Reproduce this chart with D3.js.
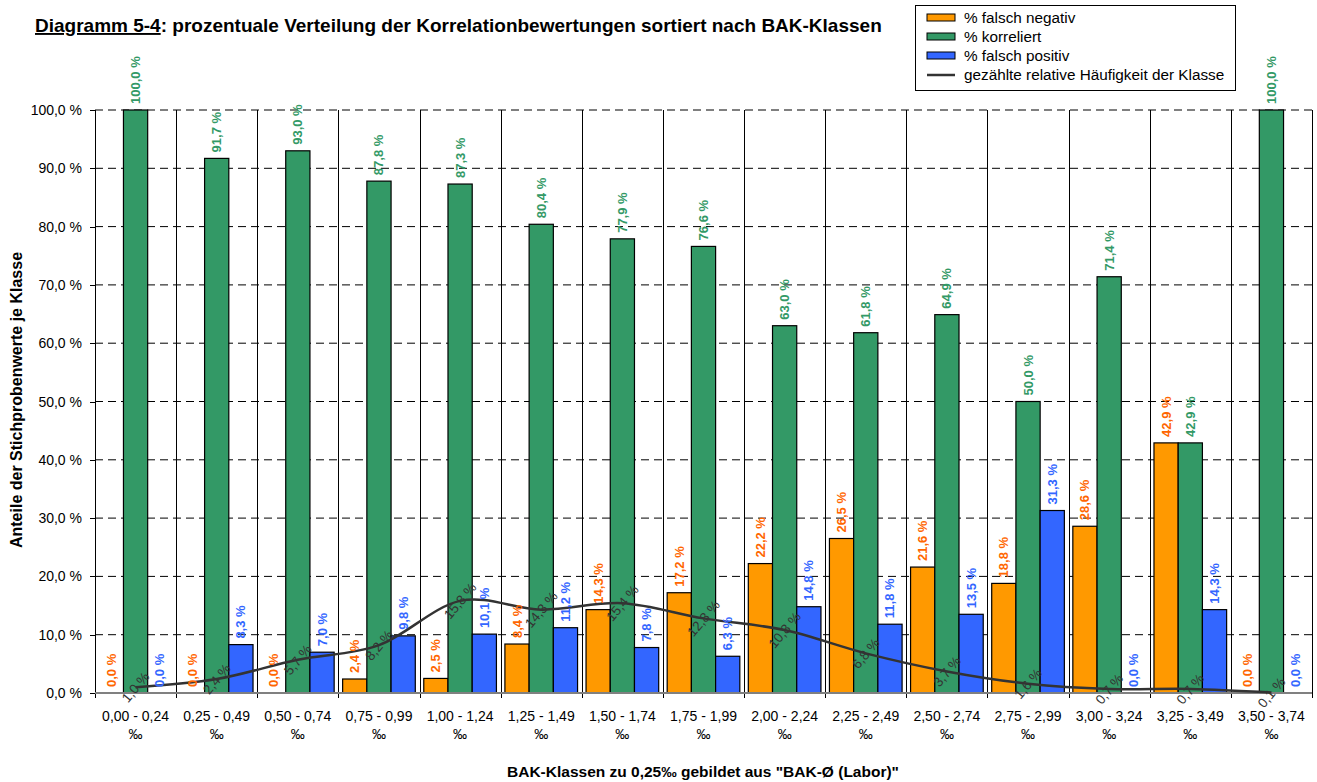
<!DOCTYPE html>
<html>
<head>
<meta charset="utf-8">
<script src="https://cdn.jsdelivr.net/npm/d3@7/dist/d3.min.js"></script>
<style>
  html, body { margin: 0; padding: 0; background: #fff; }
  svg { display: block; font-family: Arial, "Liberation Sans", sans-serif; }
</style>
</head>
<body>
<svg id="chart" width="1317" height="782"></svg>
<script>
const categories = ["0,00 - 0,24", "0,25 - 0,49", "0,50 - 0,74", "0,75 - 0,99", "1,00 - 1,24",
  "1,25 - 1,49", "1,50 - 1,74", "1,75 - 1,99", "2,00 - 2,24", "2,25 - 2,49",
  "2,50 - 2,74", "2,75 - 2,99", "3,00 - 3,24", "3,25 - 3,49", "3,50 - 3,74"];
const falschNegativ = [0.0, 0.0, 0.0, 2.4, 2.5, 8.4, 14.3, 17.2, 22.2, 26.5, 21.6, 18.8, 28.6, 42.9, 0.0];
const korreliert    = [100.0, 91.7, 93.0, 87.8, 87.3, 80.4, 77.9, 76.6, 63.0, 61.8, 64.9, 50.0, 71.4, 42.9, 100.0];
const falschPositiv = [0.0, 8.3, 7.0, 9.8, 10.1, 11.2, 7.8, 6.3, 14.8, 11.8, 13.5, 31.3, 0.0, 14.3, 0.0];
const haeufigkeit   = [1.0, 2.4, 5.7, 8.2, 15.8, 14.3, 15.4, 12.8, 10.8, 6.8, 3.7, 1.6, 0.7, 0.7, 0.1];
const yTicks = [0, 10, 20, 30, 40, 50, 60, 70, 80, 90, 100];
const seriesNames = ["% falsch negativ", "% korreliert", "% falsch positiv"];
const lineName = "gezählte relative Häufigkeit der Klasse";
const titleBold = "Diagramm 5-4";
const titleRest = ": prozentuale Verteilung der Korrelationbewertungen sortiert nach BAK-Klassen";
const xTitle = "BAK-Klassen zu 0,25‰ gebildet aus \"BAK-Ø (Labor)\"";
const yTitle = "Anteile der Stichprobenwerte je Klasse";

const barFill = ["#FF9900", "#339966", "#3366FF"];
const labelFill = ["#FF6600", "#339966", "#3366FF"];

const svg = d3.select("#chart");
const L = 95, R = 1312, T = 110, B = 693;
const fmt = v => d3.format(".1f")(v).replace(".", ",") + " %";

const x = d3.scaleBand().domain(categories).range([L, R]).paddingInner(0).paddingOuter(0);
const x1 = d3.scaleBand().domain([0, 1, 2]).range([0, x.bandwidth()]).paddingInner(0).paddingOuter(0.175);
const y = d3.scaleLinear().domain([0, 100]).range([B, T]);

// horizontal dashed gridlines
svg.append("g").selectAll("line").data(yTicks.filter(d => d > 0)).join("line")
  .attr("x1", L).attr("x2", R)
  .attr("y1", d => y(d)).attr("y2", d => y(d))
  .attr("stroke", "#000").attr("stroke-width", 1).attr("stroke-dasharray", "8,5");

// vertical category lines
const bounds = categories.map(c => x(c)).concat([R]);
svg.append("g").selectAll("line").data(bounds).join("line")
  .attr("x1", d => Math.round(d) + 0.5).attr("x2", d => Math.round(d) + 0.5)
  .attr("y1", T).attr("y2", B + 5)
  .attr("stroke", "#000").attr("stroke-width", 1);

// y ticks
const yAxis = svg.append("g");
yAxis.selectAll("line").data(yTicks).join("line")
  .attr("x1", L - 5).attr("x2", L)
  .attr("y1", d => Math.round(y(d)) + 0.5).attr("y2", d => Math.round(y(d)) + 0.5)
  .attr("stroke", "#000");
yAxis.selectAll("text").data(yTicks).join("text")
  .attr("x", L - 13).attr("y", d => y(d) + 5)
  .attr("text-anchor", "end").attr("font-size", 14).attr("fill", "#000")
  .text(d => fmt(d));

// bars
const seriesData = [falschNegativ, korreliert, falschPositiv];
seriesData.forEach((vals, si) => {
  const g = svg.append("g");
  g.selectAll("rect").data(vals).join("rect")
    .attr("x", (d, i) => x(categories[i]) + x1(si))
    .attr("width", x1.bandwidth())
    .attr("y", d => y(d))
    .attr("height", d => y(0) - y(d))
    .attr("fill", barFill[si])
    .attr("stroke", d => d > 0 ? "#000" : "none")
    .attr("stroke-width", 1.2);
});

// x axis line
svg.append("line").attr("x1", L).attr("x2", R).attr("y1", B).attr("y2", B)
  .attr("stroke", "#808080").attr("stroke-width", 2);

// line series
const cx = i => x(categories[i]) + x.bandwidth() / 2;
const lineGen = d3.line().x((d, i) => cx(i)).y(d => y(d)).curve(d3.curveCatmullRom.alpha(0));
svg.append("path").datum(haeufigkeit).attr("d", lineGen)
  .attr("fill", "none").attr("stroke", "#333333").attr("stroke-width", 2.5);

// bar labels
seriesData.forEach((vals, si) => {
  svg.append("g").selectAll("text").data(vals).join("text")
    .attr("transform", (d, i) => `translate(${x(categories[i]) + x1(si) + x1.bandwidth() / 2 + 4.5},${y(d) - 6}) rotate(-90)`)
    .attr("text-anchor", "start")
    .attr("font-size", 13).attr("font-weight", "bold")
    .attr("fill", labelFill[si])
    .text(d => fmt(d));
});

// line labels
svg.append("g").selectAll("text").data(haeufigkeit).join("text")
  .attr("transform", (d, i) => `translate(${cx(i)},${y(d)}) rotate(-50)`)
  .attr("text-anchor", "middle").attr("dy", "0.35em")
  .attr("font-size", 13.5).attr("fill", "#333333")
  .text(d => fmt(d));

// x category labels
const xl = svg.append("g");
categories.forEach((c, i) => {
  xl.append("text").attr("x", cx(i)).attr("y", 721)
    .attr("text-anchor", "middle").attr("font-size", 14).text(c);
  xl.append("text").attr("x", cx(i)).attr("y", 739)
    .attr("text-anchor", "middle").attr("font-size", 14).text("‰");
});

// axis titles
svg.append("text").attr("x", 703).attr("y", 777).attr("text-anchor", "middle")
  .attr("font-size", 15.5).attr("font-weight", "bold").text(xTitle);
svg.append("text").attr("transform", `translate(22,400) rotate(-90)`).attr("text-anchor", "middle")
  .attr("font-size", 16).attr("font-weight", "bold").text(yTitle);

// title
const title = svg.append("text").attr("x", 35).attr("y", 32).attr("font-size", 19).attr("font-weight", "bold");
title.append("tspan").attr("text-decoration", "underline").text(titleBold);
title.append("tspan").text(titleRest);

// legend
const lg = svg.append("g");
lg.append("rect").attr("x", 915.5).attr("y", 5.5).attr("width", 320).attr("height", 85)
  .attr("fill", "#fff").attr("stroke", "#000");
seriesNames.forEach((n, i) => {
  const yy = 18 + i * 19;
  lg.append("rect").attr("x", 927).attr("y", yy - 4).attr("width", 28).attr("height", 7)
    .attr("fill", barFill[i]).attr("stroke", "#000").attr("stroke-width", 1);
  lg.append("text").attr("x", 964).attr("y", yy + 5).attr("font-size", 15.3).text(n);
});
lg.append("line").attr("x1", 927).attr("x2", 955).attr("y1", 75).attr("y2", 75)
  .attr("stroke", "#333").attr("stroke-width", 2.5);
lg.append("text").attr("x", 964).attr("y", 80).attr("font-size", 15.3).text(lineName);
</script>
</body>
</html>
